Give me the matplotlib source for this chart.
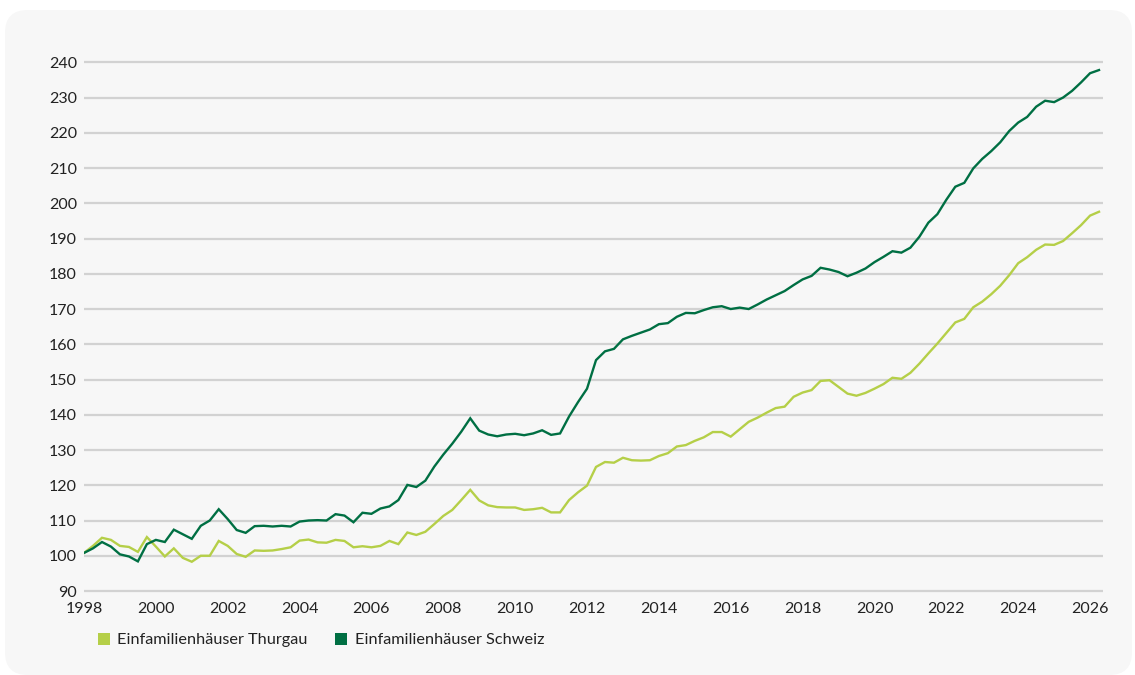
import matplotlib
matplotlib.use("Agg")
import matplotlib.pyplot as plt
import numpy as np
from matplotlib.patches import FancyBboxPatch, Patch

plt.rcParams['font.family'] = ['Lato', 'DejaVu Sans']

start_year = 1998.0
series_names = ["Einfamilienhäuser Thurgau", "Einfamilienhäuser Schweiz"]

thurgau = [
    100.8, 102.8, 105.1, 104.5, 102.8, 102.5, 101.1, 105.3,
    102.6, 99.8, 102.1, 99.4, 98.3, 100.0, 100.0, 104.2,
    102.8, 100.5, 99.7, 101.5, 101.4, 101.5, 101.9, 102.4,
    104.3, 104.6, 103.8, 103.7, 104.5, 104.2, 102.4, 102.7,
    102.4, 102.8, 104.2, 103.3, 106.6, 105.9, 106.8, 109.0,
    111.3, 113.0, 115.8, 118.7, 115.7, 114.3, 113.8, 113.7,
    113.7, 113.0, 113.2, 113.6, 112.3, 112.3, 115.8, 118.0,
    119.9, 125.2, 126.6, 126.4, 127.8, 127.1, 127.0, 127.1,
    128.3, 129.1, 131.0, 131.4, 132.6, 133.6, 135.1, 135.1,
    133.8, 135.9, 138.0, 139.2, 140.6, 141.9, 142.3, 145.1,
    146.3, 147.0, 149.6, 149.8, 147.9, 146.0, 145.4, 146.2,
    147.4, 148.7, 150.5, 150.2, 151.9, 154.5, 157.4, 160.2,
    163.2, 166.2, 167.2, 170.5, 172.1, 174.2, 176.6, 179.6,
    183.0, 184.7, 186.8, 188.3, 188.2, 189.3, 191.5, 193.8,
    196.5, 197.6,
]

schweiz = [
    100.8, 102.1, 103.9, 102.6, 100.4, 99.8, 98.4, 103.3,
    104.5, 103.9, 107.4, 106.1, 104.8, 108.5, 110.0, 113.2,
    110.4, 107.3, 106.5, 108.4, 108.5, 108.3, 108.5, 108.3,
    109.7, 110.0, 110.1, 110.0, 111.8, 111.4, 109.5, 112.2,
    111.9, 113.4, 114.0, 115.8, 120.1, 119.5, 121.3, 125.3,
    128.7, 131.8, 135.2, 139.0, 135.5, 134.4, 133.9, 134.4,
    134.6, 134.2, 134.7, 135.6, 134.3, 134.7, 139.5, 143.6,
    147.4, 155.5, 158.0, 158.7, 161.4, 162.4, 163.3, 164.2,
    165.7, 166.0, 167.8, 168.9, 168.8, 169.7, 170.5, 170.8,
    170.0, 170.4, 170.0, 171.3, 172.7, 173.9, 175.1, 176.8,
    178.4, 179.4, 181.7, 181.2, 180.5, 179.3, 180.3, 181.5,
    183.3, 184.8, 186.4, 186.0, 187.4, 190.5, 194.5, 196.9,
    201.0, 204.7, 205.8, 209.9, 212.6, 214.8, 217.3, 220.5,
    222.9, 224.5, 227.4, 229.1, 228.7, 230.0, 231.9, 234.3,
    236.9, 237.8,
]

x_ticks = [1998, 2000, 2002, 2004, 2006, 2008, 2010, 2012, 2014,
           2016, 2018, 2020, 2022, 2024, 2026]
y_ticks = [90, 100, 110, 120, 130, 140, 150, 160, 170, 180, 190, 200,
           210, 220, 230, 240]

colors = ["#B5CF48", "#006F43"]

W, H = 1135, 675
fig = plt.figure(figsize=(W / 100, H / 100), dpi=100)
fig.patch.set_facecolor("white")

panel = FancyBboxPatch((5 / W, 0 / H), (W - 8) / W, (H - 10) / H,
                       boxstyle="round,pad=0,rounding_size=0.02",
                       transform=fig.transFigure, facecolor="#F7F7F7",
                       edgecolor="none", zorder=-5, mutation_aspect=W / H)
fig.patches.append(panel)

px_per_unit = 3.525
y_top_px = 62.3 - 2 * px_per_unit
y_bot_px = 591.0 + 2 * px_per_unit
ax = fig.add_axes([84 / W, 1 - y_bot_px / H, (1103 - 84) / W, (y_bot_px - y_top_px) / H])
ax.set_facecolor("none")
ax.set_zorder(2)

t = start_year + 0.25 * np.arange(len(schweiz))
ax.plot(t, thurgau, color=colors[0], lw=1.7, zorder=3, solid_joinstyle="miter")
ax.plot(t, schweiz, color=colors[1], lw=1.7, zorder=4, solid_joinstyle="miter")

ax.set_xlim(1998, 1998 + (1103 - 84) / 35.93)
ax.set_ylim(88, 242)
ax.set_xticks(x_ticks)
ax.set_yticks(y_ticks)
ax.set_xticklabels([str(v) for v in x_ticks])
ax.set_yticklabels([str(v) for v in y_ticks])
ax.grid(axis="y", color="#D2D2D2", lw=1.6, zorder=1)
ax.grid(axis="x", visible=False)
ax.set_axisbelow(True)
for s in ax.spines.values():
    s.set_visible(False)
ax.tick_params(axis="both", length=0, labelsize=11.5, colors="#222222")
ax.tick_params(axis="x", pad=3)
ax.tick_params(axis="y", pad=5)

handles = [Patch(facecolor=colors[0], edgecolor="none"),
           Patch(facecolor=colors[1], edgecolor="none")]
fig.legend(handles, series_names, loc="center left",
           bbox_to_anchor=(83 / W, 1 - 640 / H), ncol=2, frameon=False,
           fontsize=11.7, handlelength=0.75, handleheight=0.75,
           handletextpad=0.45, columnspacing=1.7, labelcolor="#222222")

fig.savefig("out.png", dpi=100, facecolor=fig.get_facecolor())
